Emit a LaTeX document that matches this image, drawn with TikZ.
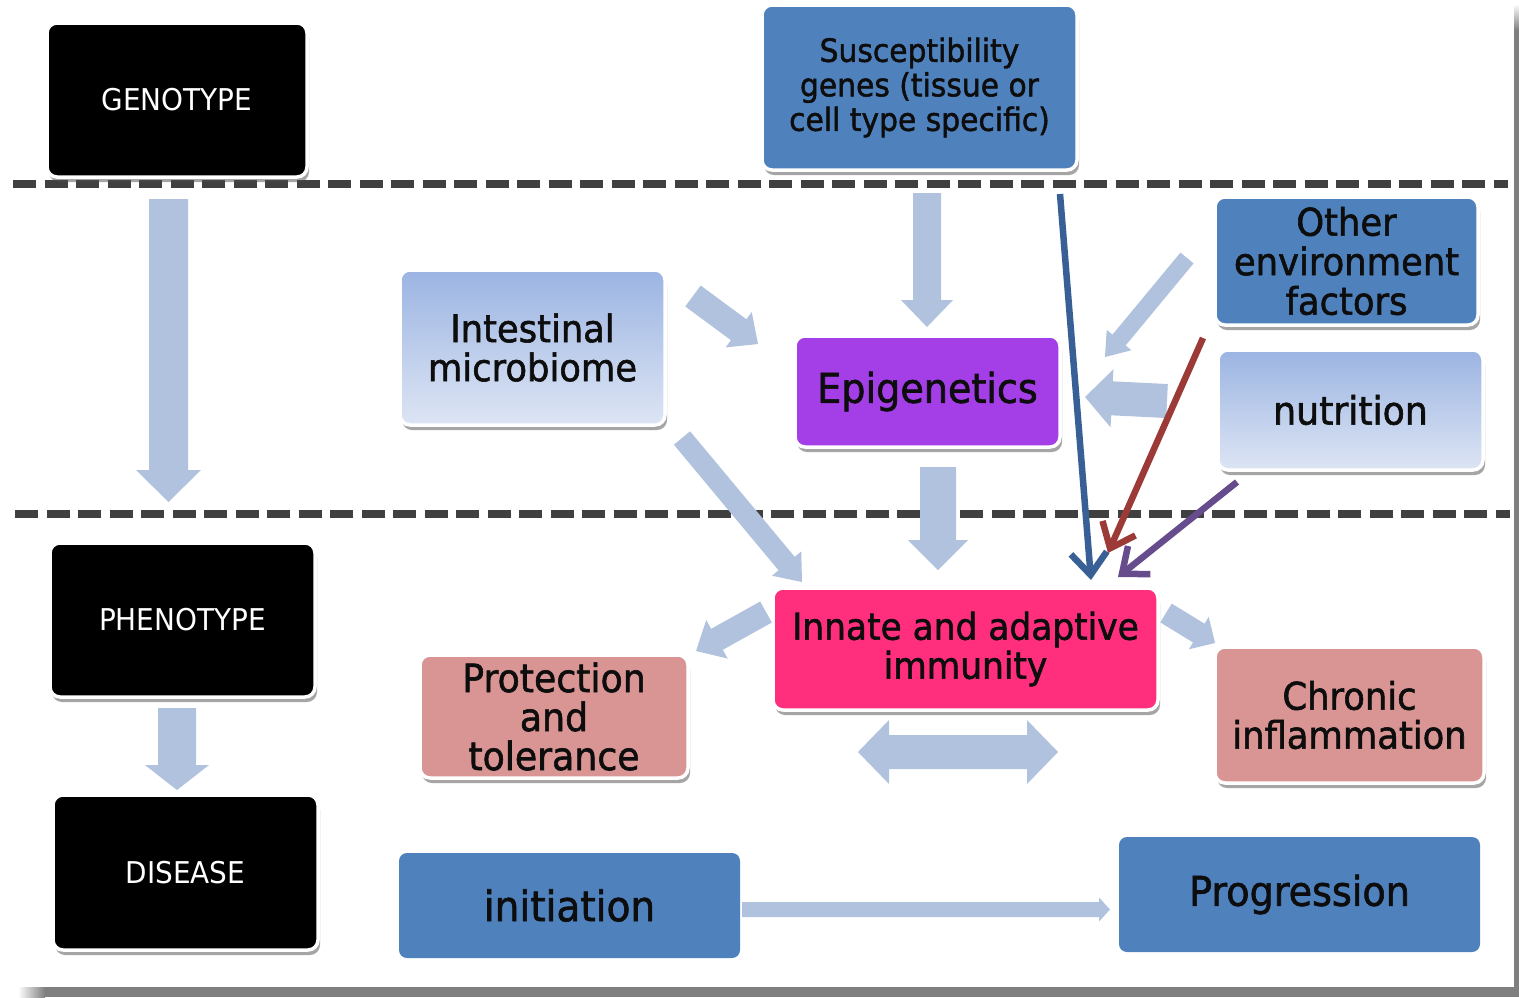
\documentclass[tikz,border=0pt]{standalone}
\usepackage{fontspec}
\setmainfont{DejaVu Sans}[FakeStretch=0.93]
\newfontfamily\heavyfont{DejaVu Sans}[FakeStretch=0.93, FakeBold=1.5]
\usetikzlibrary{calc,shadows,arrows.meta}
\definecolor{boxblue}{HTML}{4F81BD}
\definecolor{gradtop}{HTML}{9BB4E2}
\definecolor{gradbot}{HTML}{DDE5F4}
\definecolor{epipurple}{HTML}{A43FE8}
\definecolor{immpink}{HTML}{FF2F7E}
\definecolor{rose}{HTML}{D99594}
\definecolor{arrowfill}{HTML}{B0C2DE}
\definecolor{dashgray}{HTML}{404040}
\definecolor{lineblue}{HTML}{386096}
\definecolor{linered}{HTML}{9C3A37}
\definecolor{linepurple}{HTML}{664C8C}
\definecolor{edgegray}{HTML}{7F7F7F}
\newcommand\myfs[2]{\fontsize{#1pt}{#2pt}\selectfont}
\newcommand\blkarrow[5]{%
  \path ($(#2)!#5!(#1)$) coordinate (bh);
  \fill[arrowfill] ($(#1)!#3!90:(#2)$) -- ($(bh)!#3!90:(#2)$) -- ($(bh)!#4!90:(#2)$) -- (#2)
    -- ($(bh)!#4!-90:(#2)$) -- ($(bh)!#3!-90:(#2)$) -- ($(#1)!#3!-90:(#2)$) -- cycle;}
\tikzset{
  box/.style={rounded corners=10pt, draw=white, line width=3.5pt, align=center, inner sep=0pt,
    text=black!95, drop shadow={shadow xshift=2pt, shadow yshift=-5pt, opacity=0.5, fill=black!70}},
  flatbox/.style={rounded corners=8pt, fill=boxblue, align=center, inner sep=0pt, text=black!95},
  blackbox/.style={box, fill=black, text=white, font=\myfs{30}{34}},
  gradbox/.style={box, top color=gradtop, bottom color=gradbot},
  dashline/.style={draw=dashgray, line width=8pt, dash pattern=on 23pt off 8.5pt},
  thinarrow/.style={line width=6.5pt, -{Straight Barb[length=22pt,width=36pt]}},
}
\begin{document}
\begin{tikzpicture}[x=1pt,y=-1pt]
\useasboundingbox (0,0) rectangle (1519,997);
\fill[white] (0,0) rectangle (1519,997);
% slide edge shadow
\shade[top color=white, bottom color=edgegray] (1514,4) rectangle (1519,30);
\fill[edgegray] (1514,30) rectangle (1519,997);
\shade[left color=white, right color=edgegray] (18,987) rectangle (45,997);
\fill[edgegray] (45,987) rectangle (1519,997);
% dashed separators
\coordinate (d1l) at (13,184);
\coordinate (d1r) at (1508,184);
\coordinate (d2l) at (15,514);
\coordinate (d2r) at (1510,514);
\draw[dashline] (d1l) -- (d1r);
\draw[dashline] (d2l) -- (d2r);

% nodes
\node[blackbox, minimum width=260pt, minimum height=154pt] (geno) at (177,100) {GENOTYPE};
\node[blackbox, minimum width=265pt, minimum height=154pt] (pheno) at (182.5,620) {PHENOTYPE};
\node[blackbox, minimum width=265pt, minimum height=155pt] (dis) at (185.5,872.5) {DISEASE};
\node[box, fill=boxblue, minimum width=315pt, minimum height=165pt, font=\heavyfont\myfs{32}{34.5}] (susc) at (919.5,87.5)
  {Susceptibility\\genes (tissue or\\cell type specific)};
\node[gradbox, minimum width=265pt, minimum height=155pt, font=\heavyfont\myfs{38}{39}] (micro) at (532.5,347.5)
  {Intestinal\\microbiome};
\node[box, fill=epipurple, minimum width=265pt, minimum height=111pt, font=\heavyfont\myfs{41}{44}] (epi) at (927.5,391.5)
  {Epigenetics};
\node[box, fill=boxblue, minimum width=263pt, minimum height=128pt, font=\heavyfont\myfs{38}{39.5}] (env) at (1346.5,261)
  {Other\\environment\\factors};
\node[gradbox, minimum width=265pt, minimum height=120pt, font=\heavyfont\myfs{39}{40}] (nut) at (1350.5,410)
  {nutrition};
\node[box, fill=immpink, minimum width=385pt, minimum height=122pt, font=\heavyfont\myfs{37}{39}] (imm) at (965.5,649)
  {Innate and adaptive\\immunity};
\node[box, fill=rose, minimum width=268pt, minimum height=123pt, font=\heavyfont\myfs{39}{39}] (prot) at (554,716.5)
  {Protection\\and\\tolerance};
\node[box, fill=rose, minimum width=269pt, minimum height=136pt, font=\heavyfont\myfs{38}{39}] (chron) at (1349.5,715)
  {Chronic\\inflammation};
\node[flatbox, minimum width=341pt, minimum height=105pt, font=\heavyfont\myfs{42}{44}] (init) at (569.5,905.5)
  {initiation};
\node[flatbox, minimum width=361pt, minimum height=115pt, font=\heavyfont\myfs{41}{44}] (prog) at (1299.5,894.5)
  {Progression};

% block arrows
\coordinate (gen1) at (168.5,199);   \coordinate (gen2) at (168.5,502);
\blkarrow{gen1}{gen2}{19.5pt}{32.5pt}{32pt}
\coordinate (ph1) at (177,708);      \coordinate (ph2) at (177,790);
\blkarrow{ph1}{ph2}{19pt}{32pt}{25pt}
\coordinate (su1) at (927,193);      \coordinate (su2) at (927,327);
\blkarrow{su1}{su2}{14pt}{26pt}{27pt}
\coordinate (ep1) at (938,467);      \coordinate (ep2) at (938,570);
\blkarrow{ep1}{ep2}{18pt}{30pt}{30pt}
\coordinate (mi1) at (693,296);      \coordinate (mi2) at (758,344);
\blkarrow{mi1}{mi2}{13pt}{22pt}{24pt}
\coordinate (mi3) at (682,438);      \coordinate (mi4) at (802,582);
\blkarrow{mi3}{mi4}{10.5pt}{19pt}{24pt}
\coordinate (en1) at (1187,258);     \coordinate (en2) at (1105,357);
\blkarrow{en1}{en2}{8.5pt}{16pt}{22pt}
\coordinate (nu1) at (1167,401);     \coordinate (nu2) at (1085,397);
\blkarrow{nu1}{nu2}{17pt}{29pt}{27pt}
\coordinate (im1) at (766,612);      \coordinate (im2) at (696,651);
\blkarrow{im1}{im2}{12pt}{22pt}{24pt}
\coordinate (im3) at (1166,613);     \coordinate (im4) at (1215,643);
\blkarrow{im3}{im4}{11pt}{19pt}{19pt}
\coordinate (dc) at (958,752);  \coordinate (dl) at (858,752);  \coordinate (dr) at (1058,752);
\blkarrow{dc}{dl}{17pt}{32pt}{31pt}
\blkarrow{dc}{dr}{17pt}{32pt}{31pt}
\coordinate (in1) at (742,909.5);    \coordinate (in2) at (1110,909.5);
\blkarrow{in1}{in2}{7.5pt}{12pt}{11pt}

% thin arrows
\coordinate (bl1) at (1060,194);  \coordinate (bl2) at (1091,580);
\draw[thinarrow, lineblue] (bl1) -- (bl2);
\coordinate (rd1) at (1203,338);  \coordinate (rd2) at (1108,553);
\draw[thinarrow, linered] (rd1) -- (rd2);
\coordinate (pu1) at (1237,482);  \coordinate (pu2) at (1118,577);
\draw[thinarrow, linepurple] (pu1) -- (pu2);
\end{tikzpicture}
\end{document}
